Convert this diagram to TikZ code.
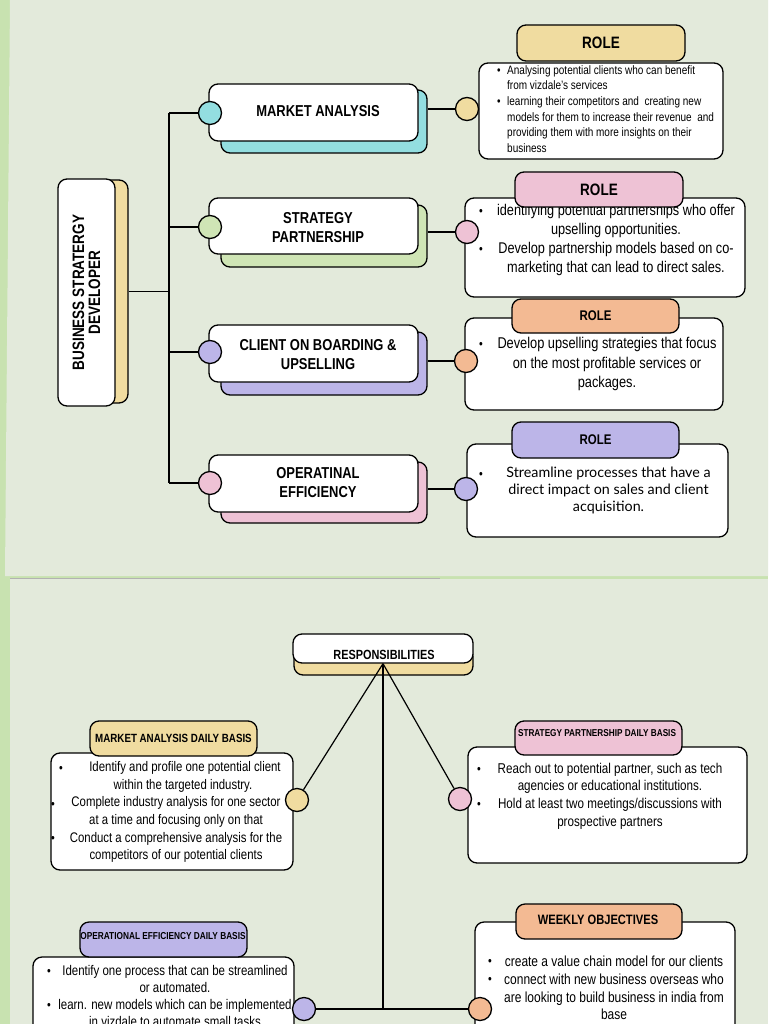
\documentclass[tikz,border=0pt]{standalone}
\usepackage{fontspec}
\setmainfont{Liberation Sans}
\newfontfamily\cond[FakeStretch=0.82]{Liberation Sans}
\newfontfamily\latofont{Lato}
\definecolor{stripgreen}{RGB}{200,226,176}
\definecolor{panelc}{RGB}{227,234,219}
\definecolor{cyellow}{RGB}{240,220,160}
\definecolor{ccyan}{RGB}{147,222,224}
\definecolor{cgreen}{RGB}{207,229,181}
\definecolor{clav}{RGB}{188,181,232}
\definecolor{cpink}{RGB}{238,194,213}
\definecolor{cpeach}{RGB}{243,186,147}
\tikzset{
  card/.style={draw=black, line width=1.3pt, rounded corners=9pt, inner sep=0pt, fill=white},
  dot/.style={circle, draw=black, line width=1.3pt, minimum size=23pt, inner sep=0pt},
  link/.style={line width=1.3pt, draw=black},
  title/.style={font={\cond\bfseries\fontsize{15.8}{19}\selectfont}, align=center, inner sep=0pt},
  bul/.style={font={\cond\fontsize{13}{13}\selectfont}, inner sep=0pt},
  txt/.style={align=center, inner sep=0pt},
}
\newcommand\bulx{\makebox[10pt][l]{\textbullet}}
\newcommand\indx{\hspace*{10pt}}
\begin{document}
\begin{tikzpicture}[x=1pt,y=-1pt]
\useasboundingbox (0,0) rectangle (768,1024);
\clip (0,0) rectangle (768,1024);
% background
\fill[stripgreen] (0,0) rectangle (768,1024);
\fill[panelc] (10,0) -- (5,576) -- (768,576) -- (768,0) -- cycle;
\fill[panelc] (10,579) rectangle (768,1024);
\draw[black!30, line width=0.6pt] (10,578) -- (440,578);

% ===== TOP =====
\node[card, fill=cyellow, minimum width=58pt, minimum height=223pt] (bsdS) at (99,291.5) {};
\node[card, minimum width=57pt, minimum height=227pt] (bsd) at (86.5,292.5) {};
\node[rotate=90, txt, font={\cond\bfseries\fontsize{16.5}{16}\selectfont}] (bsdT) at (bsd.center) {BUSINESS STRATERGY\\DEVELOPER};

\coordinate (tTop) at (169,113);
\coordinate (tBot) at (169,483);
\draw[link] (tTop) -- (tBot);
\draw[link] (bsdS.east) -- (bsdS.east -| tTop);

% branch boxes
\node[card, fill=ccyan, minimum width=206pt, minimum height=63pt] (maS) at (324,121.5) {};
\node[card, minimum width=209pt, minimum height=57pt] (ma) at (313.5,112.5) {};
\node[title] (maT) at (318,111) {MARKET ANALYSIS};

\node[card, fill=cgreen, minimum width=206pt, minimum height=62pt] (spS) at (324,236) {};
\node[card, minimum width=209pt, minimum height=56pt] (sp) at (313.5,226) {};
\node[title] (spT) at (318,227.5) {STRATEGY\\PARTNERSHIP};

\node[card, fill=clav, minimum width=206pt, minimum height=63pt] (coS) at (324,363.5) {};
\node[card, minimum width=209pt, minimum height=57pt] (co) at (313.5,353.5) {};
\node[title] (coT) at (318,355) {CLIENT ON BOARDING \&\\UPSELLING};

\node[card, fill=cpink, minimum width=206pt, minimum height=61pt] (opS) at (324,492.5) {};
\node[card, minimum width=209pt, minimum height=57pt] (op) at (313.5,483.5) {};
\node[title] (opT) at (318,482.5) {OPERATINAL\\EFFICIENCY};

\node[dot, fill=ccyan] (c1) at (210,113) {};
\node[dot, fill=cgreen] (c2) at (210,227) {};
\node[dot, fill=clav] (c3) at (210,352) {};
\node[dot, fill=cpink] (c4) at (210,483) {};
\draw[link] (c1 -| tTop) -- (c1);
\draw[link] (c2 -| tTop) -- (c2);
\draw[link] (c3 -| tTop) -- (c3);
\draw[link] (c4 -| tTop) -- (c4);

% role 1
\node[card, minimum width=244pt, minimum height=96pt] (r1) at (601,111) {};
\node[anchor=west, align=left, inner sep=0pt, font={\cond\fontsize{12.2}{15.6}\selectfont}] (r1T) at (497,109)
 {\bulx Analysing potential clients who can benefit\\
  \indx from vizdale’s services\\
  \bulx learning their competitors and\ \ creating new\\
  \indx models for them to increase their revenue\ \ and\\
  \indx providing them with more insights on their\\
  \indx business};
\node[card, fill=cyellow, minimum width=168pt, minimum height=36pt, font={\cond\bfseries\fontsize{16.5}{16}\selectfont}] (r1H) at (601,43) {ROLE};
\node[dot, fill=cyellow] (rc1) at (467,109) {};
\draw[link] (maS.east |- rc1) -- (rc1);

% role 2
\node[card, minimum width=280pt, minimum height=99pt] (r2) at (605,247.5) {};
\node[txt, font={\cond\fontsize{15.5}{19}\selectfont}] (r2T) at (616,240)
 {identifying potential partnerships who offer\\ upselling opportunities.\\ Develop partnership models based on co-\\ marketing that can lead to direct sales.};
\node[bul] (r2b1) at (481,212) {\textbullet};
\node[bul] (r2b2) at (481,250) {\textbullet};
\node[card, fill=cpink, minimum width=168pt, minimum height=35pt, font={\cond\bfseries\fontsize{16.5}{16}\selectfont}] (r2H) at (599,189.5) {ROLE};
\node[dot, fill=cpink] (rc2) at (467,232) {};
\draw[link] (spS.east |- rc2) -- (rc2);

% role 3
\node[card, minimum width=258pt, minimum height=92pt] (r3) at (594,364) {};
\node[txt, font={\cond\fontsize{15.6}{19.5}\selectfont}] (r3T) at (607,364)
 {Develop upselling strategies that focus\\ on the most profitable services or\\ packages.};
\node[bul] (r3b1) at (481,345) {\textbullet};
\node[card, fill=cpeach, minimum width=167pt, minimum height=34pt, font={\cond\bfseries\fontsize{14}{14}\selectfont}] (r3H) at (595.5,316) {ROLE};
\node[dot, fill=cpeach] (rc3) at (466,361) {};
\draw[link] (coS.east |- rc3) -- (rc3);

% role 4
\node[card, minimum width=261pt, minimum height=93pt] (r4) at (597.5,490.5) {};
\node[txt, font={\latofont\fontsize{14.3}{17}\selectfont}] (r4T) at (608.5,490.5)
 {Streamline processes that have a\\ direct impact on sales and client\\ acquisition.};
\node[bul] (r4b1) at (481,475) {\textbullet};
\node[card, fill=clav, minimum width=167pt, minimum height=36pt, font={\cond\bfseries\fontsize{14}{14}\selectfont}] (r4H) at (595.5,440) {ROLE};
\node[dot, fill=clav] (rc4) at (466,489) {};
\draw[link] (opS.east |- rc4) -- (rc4);

% ===== BOTTOM =====
\node[card, fill=cyellow, minimum width=179pt, minimum height=27pt] (respS) at (383.5,661.5) {};
\node[card, minimum width=180pt, minimum height=29pt] (resp) at (383,648.5) {};
\node[txt, font={\cond\bfseries\fontsize{13.3}{14}\selectfont}] (respT) at (384,655) {RESPONSIBILITIES};
\coordinate (apex) at (resp.south);

% market daily
\node[card, minimum width=242pt, minimum height=117pt] (md) at (172,811.5) {};
\node[txt, font={\cond\fontsize{13.9}{17.6}\selectfont}] (mdT) at (176,812)
 {\hspace*{18pt}Identify and profile one potential client\\ \hspace*{14pt}within the targeted industry.\\ Complete industry analysis for one sector\\ at a time and focusing only on that\\ Conduct a comprehensive analysis for the\\ competitors of our potential clients};
\node[bul] (mdb1) at (61,769) {\textbullet};
\node[bul] (mdb2) at (53,805) {\textbullet};
\node[bul] (mdb3) at (53,839) {\textbullet};
\node[card, fill=cyellow, minimum width=167pt, minimum height=35pt, font={\cond\bfseries\fontsize{11.9}{12}\selectfont}] (mdH) at (173.5,738.5) {MARKET ANALYSIS DAILY BASIS};
\node[dot, fill=cyellow] (mdc) at (297,800) {};

% strategy daily
\node[card, minimum width=279pt, minimum height=116pt] (sd) at (607.5,805) {};
\node[txt, font={\cond\fontsize{14.2}{17.7}\selectfont}] (sdT) at (610,796)
 {Reach out to potential partner, such as tech\\ agencies or educational institutions.\\ Hold at least two meetings/discussions with\\ prospective partners};
\node[bul] (sdb1) at (479,770) {\textbullet};
\node[bul] (sdb2) at (479,805) {\textbullet};
\node[card, fill=cpink, minimum width=167pt, minimum height=34pt] (sdH) at (598.5,738) {};
\node[txt, font={\cond\bfseries\fontsize{10}{10}\selectfont}] (sdHT) at (597,733) {STRATEGY PARTNERSHIP DAILY BASIS};
\node[dot, fill=cpink] (sdc) at (460,799) {};

% operational daily
\node[card, minimum width=261pt, minimum height=120pt] (od) at (163.5,1017) {};
\node[txt, font={\cond\fontsize{14}{16.8}\selectfont}] (odT) at (175,996)
 {Identify one process that can be streamlined\\ or automated.\\ learn. new models which can be implemented\\ in vizdale to automate small tasks};
\node[bul] (odb1) at (49,972) {\textbullet};
\node[bul] (odb2) at (49,1006) {\textbullet};
\node[card, fill=clav, minimum width=167pt, minimum height=35pt] (odH) at (163.5,939.5) {};
\node[txt, font={\cond\bfseries\fontsize{10.1}{10}\selectfont}] (odHT) at (163,936) {OPERATIONAL EFFICIENCY DAILY BASIS};
\node[dot, fill=clav] (odc) at (304,1009) {};

% weekly
\node[card, minimum width=260pt, minimum height=160pt] (wk) at (605,1002) {};
\node[txt, font={\cond\fontsize{14.6}{17.7}\selectfont}] (wkT) at (614,988)
 {create a value chain model for our clients\\ connect with new business overseas who\\ are looking to build business in india from\\ base};
\node[bul] (wkb1) at (490,962) {\textbullet};
\node[bul] (wkb2) at (490,980) {\textbullet};
\node[card, fill=cpeach, minimum width=166pt, minimum height=35pt] (wkH) at (599,921.5) {};
\node[txt, font={\cond\bfseries\fontsize{13.6}{13}\selectfont}] (wkHT) at (598,920) {WEEKLY OBJECTIVES};
\node[dot, fill=cpeach] (wkc) at (480,1009) {};

% bottom connectors
\draw[line width=1.2pt] (apex) -- (mdc);
\draw[line width=1.2pt] (apex) -- (sdc);
\draw[line width=1.2pt] (apex) -- (apex |- odc);
\draw[link] (odc) -- (wkc);
\end{tikzpicture}
\end{document}
